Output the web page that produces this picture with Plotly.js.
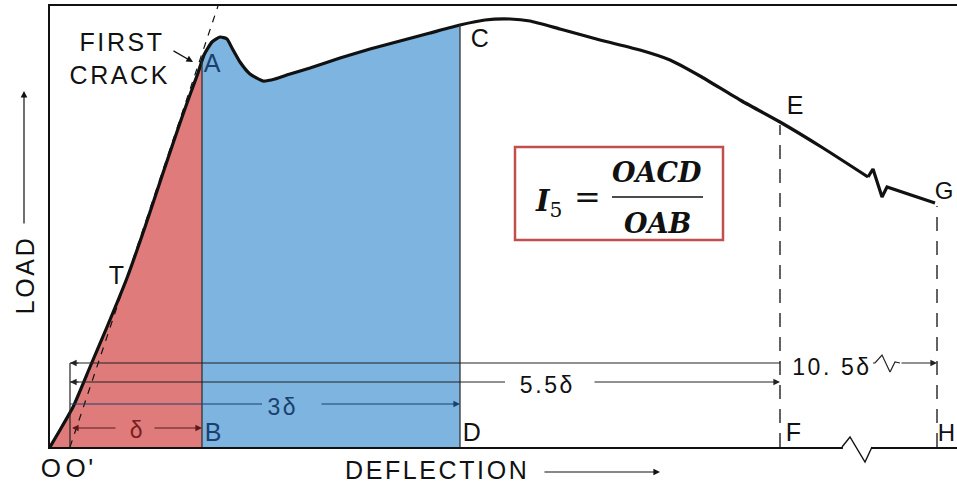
<!DOCTYPE html>
<html><head><meta charset="utf-8">
<script src="https://cdn.plot.ly/plotly-3.0.1.min.js"></script>
<style>
html,body{margin:0;padding:0;background:#fff}#c{width:957px;height:483px}
#c text.annotation-text[style*="Liberation Sans"]{letter-spacing:2.6px}
</style>
</head><body><div id="c"></div>
<script>
// Load-deflection curve (deflection, load) in drawing units
const curveX = [0,10,23,40,57,77,95,113,131,141,148,154,162,170,177,182,190,200,213,225,240,260,290,320,350,380,410,435,460,480,510,550,590,620,650,690,730,773,818];
const curveY = [0,17,40,80,120,169,220,274,327,355,374,392,405,410,408,399,385,373,366,368,373,379,389,398,406,414,422,427,428,426,418,407,397,387,371,347,325,299,270];
// tail after the break
const tailX = [818,823,832,837,885];
const tailY = [270,278,250,260,244];
// key deflections / loads
const xB = 152, xD = 410, xF = 730, xH = 887;
const yB = 386, yD = 422, yE = 325, yG = 244;
// first-crack tangent extension (through O')
const tanX = [20, 168];
const tanY = [0, 441];
// dimension line levels
const dimY = {h105: 84, h55: 65, h3: 43, hd: 19};
const dimLabels = ["10. 5\u03b4", "5.5\u03b4", "3\u03b4", "\u03b4"];
const W = 907, H = 441; // axis extents

function sub(xs, ys, a, b){
  const X=[],Y=[];
  for(let i=0;i<xs.length;i++){ if(xs[i]>=a && xs[i]<=b){X.push(xs[i]);Y.push(ys[i]);} }
  return [X,Y];
}
const [rx, ry] = sub(curveX, curveY, 0, xB);
rx.push(xB); ry.push(yB);
const [bx0, by0] = sub(curveX, curveY, xB, xD);
const bx = [xB].concat(bx0).concat([xD]);
const by = [yB].concat(by0).concat([yD]);

const black = '#111';
const dim = '#222';
const navy = '#1c3f6e';
const L = (x, y, color, width, dash) => ({x:x, y:y, type:'scatter', mode:'lines', line:{color:color, width:width, dash:dash||'solid'}, hoverinfo:'skip'});
const traces = [
  {x: rx, y: ry, type:'scatter', mode:'lines', fill:'tozeroy', fillcolor:'#E07B7B', line:{width:0, shape:'spline', smoothing:0.5}, hoverinfo:'skip'},
  {x: bx, y: by, type:'scatter', mode:'lines', fill:'tozeroy', fillcolor:'#7DB5E0', line:{width:0, shape:'spline', smoothing:0.5}, hoverinfo:'skip'},
  L(tanX, tanY, black, 1.2, '7px,7px'),
  {x: curveX, y: curveY, type:'scatter', mode:'lines', line:{color:black, width:3.2, shape:'spline', smoothing:0.5}, hoverinfo:'skip'},
  L(tailX, tailY, black, 3.2),
  L([xB,xB], [0,yB], '#333', 1.3),
  L([xD,xD], [0,yD], '#333', 1.3),
  L([xF,xF], [0,yE-3], black, 1.3, '14px,10px'),
  L([xH,xH], [0,yG-3], black, 1.3, '14px,10px'),
  L([20,20], [0,dimY.h105], dim, 1.2),
  L([20,xF], [dimY.h105,dimY.h105], dim, 1.2),
  L([823,825,832,840,845,850], [84,84,92,75,85,84], dim, 1.2),
  L([20,455], [dimY.h55,dimY.h55], dim, 1.2),
  L([20,212], [dimY.h3,dimY.h3], navy, 1.2)
];

function arrow(x, y, ax, ay, color){
  return {x:x, y:y, ax:ax, ay:ay, xref:'x', yref:'y', axref:'x', ayref:'y', text:'', showarrow:true,
          arrowhead:2, arrowsize:1.1, arrowwidth:1.2, arrowcolor:color||dim};
}
const sans = 'Liberation Sans, Arial, sans-serif';
function lbl(t, x, y, opts){
  const o = Object.assign({size:25, color:black}, opts||{});
  return {text:t, x:x, y:y, xref:o.xref||'x', yref:o.yref||'y', showarrow:false, font:{size:o.size, color:o.color, family:sans},
          xanchor:o.xanchor||'center', yanchor:'middle', textangle:o.angle||0};
}
const serif = 'DejaVu Serif, Liberation Serif, serif';
const annotations = [
  lbl('FIRST', 72, 405),
  lbl('CRACK', 70, 372),
  arrow(143, 385, 122, 397, black),
  lbl('A', 163, 384, {color:navy}),
  lbl('T', 67, 172),
  lbl('C', 431, 409),
  lbl('B', 164, 15, {color:navy}),
  lbl('D', 423, 15),
  lbl('E', 746, 342),
  lbl('F', 744, 15),
  lbl('G', 895, 257, {size:24}),
  lbl('H', 897, 15, {size:24}),
  lbl('O', 2, -21/H, {yref:'paper', size:26}),
  lbl("O'", 30, -21/H, {yref:'paper', size:26}),
  lbl('DEFLECTION', 387, -23/H, {yref:'paper'}),
  {x:610, y:-25/H, xref:'x', yref:'paper', axref:'pixel', ayref:'pixel', ax:-117, ay:0, text:'', showarrow:true, arrowhead:2, arrowsize:1.1, arrowwidth:1.2, arrowcolor:black},
  lbl('LOAD', -25/W, 172, {xref:'paper', angle:-90}),
  {x:-26/W, y:356, xref:'paper', yref:'y', axref:'pixel', ayref:'pixel', ax:0, ay:134, text:'', showarrow:true, arrowhead:2, arrowsize:1.1, arrowwidth:1.2, arrowcolor:black},
  // dimension texts and arrows
  arrow(20, dimY.h105, 30, dimY.h105),
  lbl(dimLabels[0], 782, 80, {size:23}),
  arrow(xH, dimY.h105, 850, dimY.h105),
  arrow(20, dimY.h55, 30, dimY.h55),
  lbl(dimLabels[1], 497, 62, {size:23}),
  arrow(xF, dimY.h55, 543, dimY.h55),
  lbl(dimLabels[2], 233, 40, {size:23, color:navy}),
  arrow(xD, dimY.h3, 270, dimY.h3, navy),
  lbl(dimLabels[3], 87, 17, {size:23, color:'#7a1f1f'}),
  arrow(22, dimY.hd, 67, dimY.hd, '#5a1a1a'),
  arrow(xB, dimY.hd, 103, dimY.hd, '#5a1a1a'),
  // formula
  {text:'<b><i>I</i></b><sub>5</sub>', x:498, y:244, xref:'x', yref:'y', showarrow:false, font:{size:29, color:black, family:serif}},
  {text:'=', x:537, y:250, xref:'x', yref:'y', showarrow:false, font:{size:32, color:black, family:serif}},
  {text:'<b><i>OACD</i></b>', x:607, y:275, xref:'x', yref:'y', showarrow:false, font:{size:27, color:black, family:serif}},
  {text:'<b><i>OAB</i></b>', x:607, y:224, xref:'x', yref:'y', showarrow:false, font:{size:27, color:black, family:serif}}
];
// baseline break (zigzag) in paper coords
const zx = [792, 800, 815, 822].map(v => v / W);
const zy = [0, 10, -15, 0].map(v => v / H);
const shapes = [
  {type:'rect', xref:'x', yref:'y', x0:465, x1:673, y0:207, y1:300, line:{color:'#C0504D', width:2.5}, fillcolor:'rgba(0,0,0,0)'},
  {type:'line', xref:'x', yref:'y', x0:562, x1:653, y0:250, y1:250, line:{color:black, width:1.5}},
  {type:'rect', xref:'paper', yref:'paper', x0:zx[0]+0.001, x1:zx[3]-0.001, y0:-0.008, y1:0.008, line:{width:0}, fillcolor:'#fff'},
  {type:'path', xref:'paper', yref:'paper', path:`M ${zx[0]} ${zy[0]} L ${zx[1]} ${zy[1]} L ${zx[2]} ${zy[2]} L ${zx[3]} ${zy[3]}`, line:{color:black, width:1.4}}
];
const layout = {
  width:957, height:483, margin:{l:50, r:0, t:6, b:36},
  paper_bgcolor:'#fff', plot_bgcolor:'#fff', showlegend:false,
  xaxis:{range:[0,W], showgrid:false, zeroline:false, showticklabels:false, ticks:'', showline:true, mirror:true, linecolor:black, linewidth:2, fixedrange:true},
  yaxis:{range:[0,H], showgrid:false, zeroline:false, showticklabels:false, ticks:'', showline:true, mirror:false, linecolor:black, linewidth:2, fixedrange:true},
  annotations: annotations, shapes: shapes
};
Plotly.newPlot('c', traces, layout, {displayModeBar:false, staticPlot:true});
</script></body></html>
